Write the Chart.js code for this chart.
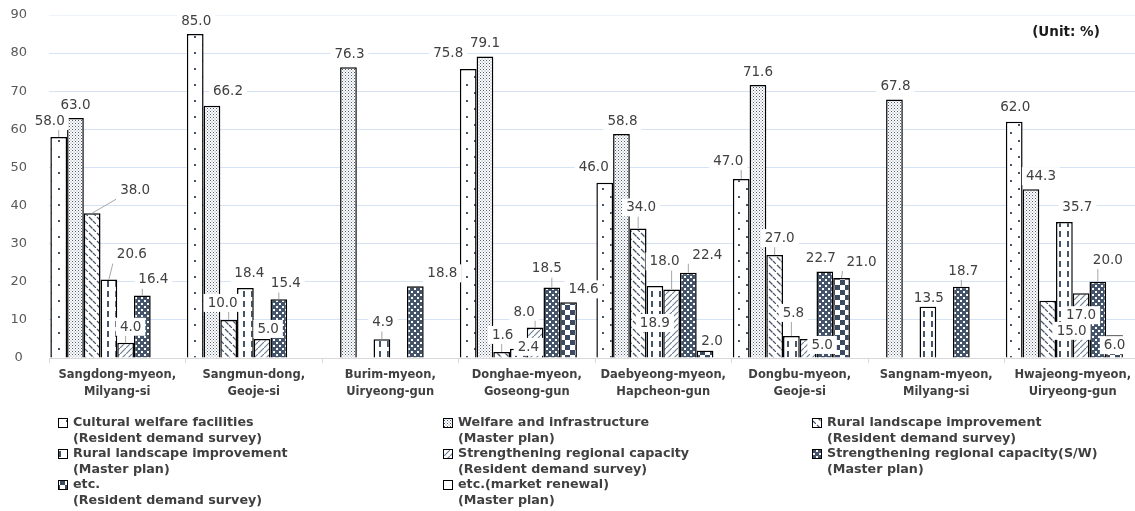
<!DOCTYPE html>
<html>
<head>
<meta charset="utf-8">
<script src="https://cdn.jsdelivr.net/npm/chart.js@4"></script>
<style>
html,body{margin:0;padding:0;background:#fff;overflow:hidden;width:1135px;height:511px;}
#c{display:block;}
</style>
</head>
<body>
<canvas id="c" width="1141" height="511"></canvas>
<script>
// ---------- DATA ----------
const categories = [
  ['Sangdong-myeon,', 'Milyang-si'],
  ['Sangmun-dong,', 'Geoje-si'],
  ['Burim-myeon,', 'Uiryeong-gun'],
  ['Donghae-myeon,', 'Goseong-gun'],
  ['Daebyeong-myeon,', 'Hapcheon-gun'],
  ['Dongbu-myeon,', 'Geoje-si'],
  ['Sangnam-myeon,', 'Milyang-si'],
  ['Hwajeong-myeon,', 'Uiryeong-gun']
];
const seriesNames = [
  ['Cultural welfare facilities', '(Resident demand survey)'],
  ['Welfare and infrastructure', '(Master plan)'],
  ['Rural landscape improvement', '(Resident demand survey)'],
  ['Rural landscape improvement', '(Master plan)'],
  ['Strengthening regional capacity', '(Resident demand survey)'],
  ['Strengthening regional capacity(S/W)', '(Master plan)'],
  ['etc.', '(Resident demand survey)'],
  ['etc.(market renewal)', '(Master plan)']
];
const culturalWelfareRDS   = [58.0, 85.0, null, 75.8, 46.0, 47.0, null, 62.0];
const welfareInfraMP       = [63.0, 66.2, 76.3, 79.1, 58.8, 71.6, 67.8, 44.3];
const ruralLandscapeRDS    = [38.0, 10.0, null, 1.6, 34.0, 27.0, null, 15.0];
const ruralLandscapeMP     = [20.6, 18.4, 4.9, 2.4, 18.9, 5.8, 13.5, 35.7];
const strengtheningRDS     = [4.0, 5.0, null, 8.0, 18.0, 5.0, null, 17.0];
const strengtheningSWMP    = [16.4, 15.4, 18.8, 18.5, 22.4, 22.7, 18.7, 20.0];
const etcRDS               = [null, null, null, 14.6, 2.0, 21.0, null, 6.0];
const etcMarketRenewalMP   = [null, null, null, null, null, null, null, null];
const yTicks = [0, 10, 20, 30, 40, 50, 60, 70, 80, 90];
const unitText = '(Unit: %)';

// ---------- label placement (pixel offsets from bar top, leader flag) ----------
const labelOffsets = {
  '0,0':[-9,-16,1], '1,0':[0,-13,0], '2,0':[43,-23,1], '3,0':[23,-25,1], '4,0':[5,-16,1], '5,0':[11,-16,1],
  '0,1':[1,-13,0], '1,1':[16,-15,0], '2,1':[-6,-17,1], '3,1':[4,-15,0], '4,1':[6,-10,0], '5,1':[7,-16,1],
  '1,2':[1,-13,0], '3,2':[1,-17,1], '5,2':[27,-13,0],
  '0,3':[-20,-16,0], '1,3':[0,-14,0], '2,3':[1,-17,1], '3,3':[10,-2,0], '4,3':[-11,-16,1], '5,3':[-5,-19,1], '6,3':[15,-13,0],
  '0,4':[-11,-16,0], '1,4':[1,-13,0], '2,4':[3,-21,1], '3,4':[0,37,0], '4,4':[-7,-28,1], '5,4':[19,-18,1], '6,4':[7,-9,0],
  '0,5':[-13,-18,1], '1,5':[0,-13,0], '2,5':[5,-17,1], '3,5':[2,-23,1], '4,5':[14,6,0], '5,5':[-4,-13,0], '6,5':[20,-16,1],
  '1,6':[1,-14,0], '3,6':[1,-9,0], '5,6':[2,-16,1],
  '0,7':[1,-15,0], '1,7':[10,-13,0], '2,7':[24,30,0], '3,7':[13,-15,0], '4,7':[0,22,0], '5,7':[10,-22,1], '6,7':[0,10,0]
};

// ---------- patterns ----------
const DARK = '#44546a';
function makePattern(w, h, draw) {
  const c = document.createElement('canvas');
  c.width = w; c.height = h;
  const g = c.getContext('2d');
  g.fillStyle = '#fff'; g.fillRect(0, 0, w, h);
  draw(g);
  return document.getElementById('c').getContext('2d').createPattern(c, 'repeat');
}
const patterns = [
  makePattern(16, 16, g => { g.fillStyle = DARK; g.fillRect(2, 4, 2, 2); g.fillRect(10, 12, 2, 2); }),
  makePattern(3, 3, g => { g.fillStyle = '#4f5f78'; g.fillRect(0, 0, 1, 1); g.fillStyle = '#7d8ba0'; g.fillRect(1.5, 1.5, 1, 1); }),
  makePattern(8, 8, g => { g.strokeStyle = DARK; g.lineWidth = 1.2; g.beginPath(); g.moveTo(1, 1); g.lineTo(4.5, 4.5); g.stroke(); g.beginPath(); g.moveTo(5, 5); g.lineTo(8, 8); g.stroke();}),
  makePattern(8, 10, g => { g.fillStyle = DARK; g.fillRect(3, 1, 2, 6); }),
  makePattern(6, 6, g => { g.strokeStyle = '#6f7f98'; g.lineWidth = 1.2; g.beginPath(); g.moveTo(-1, 7); g.lineTo(7, -1); g.stroke(); }),
  makePattern(6, 6, g => { g.fillStyle = DARK; g.fillRect(0, 0, 6, 6); g.fillStyle = '#fff'; g.fillRect(0, 0, 2, 2); g.fillRect(3, 3, 2, 2); }),
  makePattern(10, 10, g => { g.fillStyle = '#3d4b62'; g.fillRect(0, 0, 5, 5); g.fillRect(5, 5, 5, 5); }),
  '#ffffff'
];

const seriesData = [culturalWelfareRDS, welfareInfraMP, ruralLandscapeRDS, ruralLandscapeMP,
                    strengtheningRDS, strengtheningSWMP, etcRDS, etcMarketRenewalMP];

const datasets = seriesData.map((d, k) => ({
  label: seriesNames[k].join(' '),
  data: d,
  backgroundColor: patterns[k],
  borderColor: '#000',
  borderWidth: 1.5,
  borderSkipped: 'bottom',
  categoryPercentage: 0.98,
  barPercentage: 1.0
}));

// ---------- plugins ----------
const labelPlugin = {
  id: 'valueLabels',
  afterDatasetsDraw(chart) {
    const ctx = chart.ctx;
    ctx.save();
    ctx.font = '13.5px "DejaVu Sans"';
    const items = [];
    chart.data.datasets.forEach((ds, d) => {
      const meta = chart.getDatasetMeta(d);
      meta.data.forEach((bar, i) => {
        const v = ds.data[i];
        if (v == null) return;
        const off = labelOffsets[d + ',' + i] || [0, -13, 0];
        const text = v.toFixed(1);
        const w = ctx.measureText(text).width + 8;
        const h = 18;
        items.push({cx: bar.x + off[0], cy: bar.y + off[1], w, h, text, leader: off[2], tx: bar.x, ty: bar.y});
      });
    });
    ctx.strokeStyle = '#a6a6a6';
    ctx.lineWidth = 1;
    items.forEach(it => {
      if (!it.leader) return;
      const l = it.cx - it.w / 2, r = it.cx + it.w / 2, t = it.cy - it.h / 2, b = it.cy + it.h / 2;
      const px = Math.min(Math.max(it.tx, l), r);
      const py = Math.min(Math.max(it.ty, t), b);
      ctx.beginPath(); ctx.moveTo(px, py); ctx.lineTo(it.tx, it.ty); ctx.stroke();
    });
    ctx.textAlign = 'center';
    ctx.textBaseline = 'middle';
    items.forEach(it => {
      ctx.fillStyle = '#fff';
      ctx.fillRect(it.cx - it.w / 2, it.cy - it.h / 2, it.w, it.h);
      ctx.fillStyle = '#404040';
      ctx.fillText(it.text, it.cx, it.cy + 0.5);
    });
    ctx.restore();
  }
};

const legendPlugin = {
  id: 'customLegend',
  afterDraw(chart) {
    const ctx = chart.ctx;
    ctx.save();
    const boxX = [58, 443, 812];
    const textX = [73, 458, 827];
    const rowY = [423, 454, 485];
    ctx.font = 'bold 12.7px "DejaVu Sans"';
    ctx.textBaseline = 'middle';
    ctx.textAlign = 'left';
    seriesNames.forEach((lines, k) => {
      const col = k % 3, row = Math.floor(k / 3);
      const y = rowY[row];
      ctx.fillStyle = patterns[k];
      ctx.fillRect(boxX[col], y - 5, 10, 10);
      ctx.strokeStyle = '#000';
      ctx.lineWidth = 1;
      ctx.strokeRect(boxX[col] + 0.5, y - 4.5, 9, 9);
      ctx.fillStyle = '#404040';
      ctx.fillText(lines[0], textX[col], y);
      ctx.fillText(lines[1], textX[col], y + 15.5);
    });
    ctx.font = 'bold 13.5px "DejaVu Sans"';
    ctx.textAlign = 'center';
    ctx.fillStyle = '#1a1a1a';
    ctx.fillText(unitText, 1066, 32);
    ctx.restore();
  }
};

new Chart(document.getElementById('c'), {
  type: 'bar',
  data: { labels: categories, datasets },
  options: {
    responsive: false,
    animation: false,
    devicePixelRatio: 1,
    layout: { padding: { top: 15, left: 0, right: 0, bottom: 108 } },
    plugins: { legend: { display: false }, tooltip: { enabled: false } },
    scales: {
      x: {
        offset: true,
        grid: { display: true, drawOnChartArea: false, tickLength: 5, color: '#d9d9d9', offset: true },
        border: { color: '#d9d9d9' },
        ticks: { font: { family: 'DejaVu Sans', weight: 'bold', size: 11.5, lineHeight: 1.43 }, color: '#404040', padding: 4, maxRotation: 0, autoSkip: false },
        afterFit: s => { s.height = 45; }
      },
      y: {
        min: 0, max: 90,
        afterBuildTicks: s => { s.ticks = yTicks.map(v => ({ value: v })); },
        ticks: { font: { family: 'DejaVu Sans', size: 13 }, color: '#595959', padding: 22, crossAlign: 'center' },
        grid: { color: c => (c.tick && c.tick.value === 90) ? '#eef3fa' : '#d5e3f4', drawTicks: false },
        border: { display: false },
        afterFit: s => { s.width = 49; s.paddingTop = 8; s.paddingBottom = 8; }
      }
    }
  },
  plugins: [labelPlugin, legendPlugin]
});
</script>
</body>
</html>
